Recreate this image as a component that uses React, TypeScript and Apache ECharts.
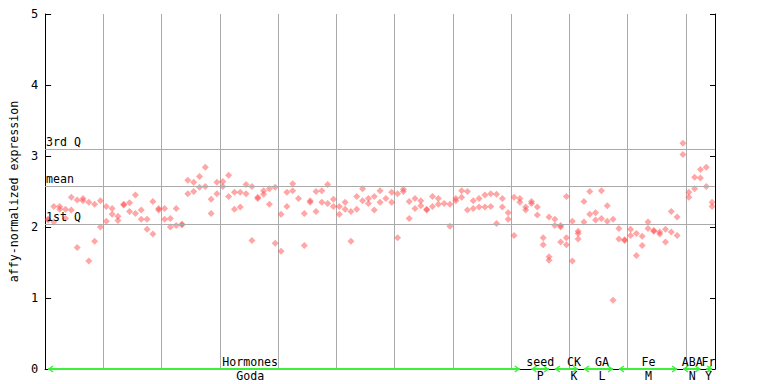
import React, { useEffect, useRef } from "react";
import * as echarts from "echarts";

// Two replicate values per sample column (115 columns)
const rep1 = [
  2.10, 2.07, 2.29, 2.25, 2.42, 2.38, 2.40, 2.35, 2.32, 2.37,
  2.29, 2.26, 2.15, 2.31, 2.34, 2.45, 2.24, 2.11, 2.36, 2.26,
  2.26, 2.12, 2.26, 2.03, 2.66, 2.63, 2.71, 2.84, 2.39, 2.63,
  2.64, 2.73, 2.49, 2.49, 2.60, 2.57, 2.42, 2.51, 2.54, 2.56,
  2.18, 2.49, 2.61, 2.40, 2.19, 2.37, 2.50, 2.51, 2.60, 2.39,
  2.29, 2.35, 2.22, 2.43, 2.54, 2.40, 2.43, 2.51, 2.40, 2.49,
  2.47, 2.53, 2.36, 2.40, 2.37, 2.24, 2.43, 2.40, 2.33, 2.32,
  2.40, 2.51, 2.50, 2.37, 2.40, 2.45, 2.47, 2.46, 2.40, 2.20,
  2.42, 2.40, 2.28, 2.36, 2.28, 1.85, 2.14, 2.11, 2.02, 2.43,
  2.08, 1.94, 2.36, 2.50, 2.20, 2.51, 2.30, 2.11, 1.98, 1.81,
  1.97, 1.91, 1.87, 2.07, 1.94, 1.93, 1.97, 2.22, 2.14, 3.18,
  2.49, 2.70, 2.81, 2.84, 2.35,
];
const rep2 = [
  2.11, 2.29, 2.25, 2.12, 2.24, 1.71, 2.37, 1.52, 1.80, 2.00,
  2.08, 2.18, 2.09, 2.32, 2.22, 2.19, 2.11, 1.97, 1.90, 2.24,
  2.11, 2.00, 2.02, 2.04, 2.47, 2.50, 2.56, 2.57, 2.19, 2.47,
  2.57, 2.43, 2.25, 2.28, 2.47, 1.81, 2.40, 2.46, 2.32, 1.77,
  1.66, 2.29, 2.51, null, 1.74, 2.35, 2.22, 2.35, 2.33, 2.29,
  2.18, 2.25, 1.80, 2.25, 2.37, 2.33, 2.24, 2.35, null, 2.35,
  1.85, 2.50, 2.12, 2.26, 2.30, 2.25, 2.29, 2.32, null, 2.01,
  2.37, 2.42, 2.24, 2.26, 2.28, 2.28, 2.29, 2.05, 2.28, 2.11,
  1.88, 2.35, 2.24, 2.33, 2.17, 1.75, 1.58, 2.02, 2.00, 1.85,
  1.52, 1.91, 2.07, 2.18, 2.10, 2.12, 2.08, 0.97, 1.83, 1.82,
  1.88, 1.60, 1.74, 1.98, 1.95, 1.90, 1.79, 1.93, 1.88, 3.02,
  2.42, 2.54, 2.69, 2.57, 2.29,
];
const extraCols = [86, 88, 89, 91];
const extraValues = [1.53, 1.79, 1.75, 1.83];

const quartileNames = ["1st Q", "mean", "3rd Q"];
const quartileValues = [2.04, 2.585, 3.105];

const groupNames = ["Hormones", "seed", "CK", "GA", "Fe", "ABA", "Fr"];
const groupSubs = ["Goda", "P", "K", "L", "M", "N", "Y"];
const groupStart = [0, 83, 87, 92, 98, 109, 113];
const groupEnd = [81, 86, 91, 97, 108, 112, 114];
const groupLabelAt = [35.2, 85.0, 90.8, 95.6, 103.6, 111.1, 113.9];

const yTicks = [0, 1, 2, 3, 4, 5];

const FONT = "DejaVu Sans Mono";

export default function App() {
  const ref = useRef<HTMLDivElement>(null);
  useEffect(() => {
    if (!ref.current) return;
    const chart = echarts.init(ref.current, undefined, { renderer: "svg" });

    const points: number[][] = [];
    rep1.forEach((v, i) => {
      if (v != null) points.push([i + 0.5, v]);
    });
    rep2.forEach((v, i) => {
      if (v != null) points.push([i + 0.5, v as number]);
    });
    extraCols.forEach((c, k) => points.push([c + 0.5, extraValues[k]]));

    const groupData = groupNames.map((n, i) => [groupStart[i] + 0.5, groupEnd[i] + 0.5, groupLabelAt[i], i]);

    const green = "#3cf03c";

    chart.setOption({
      animation: false,
      grid: { left: 37, right: 53, top: 14, bottom: 15, containLabel: false },
      xAxis: {
        type: "value",
        min: 0,
        max: 115,
        interval: 10,
        axisLine: { show: true, onZero: false, lineStyle: { color: "#000", width: 1 } },
        axisTick: { show: false },
        axisLabel: { show: false },
        splitLine: { show: true, lineStyle: { color: "#aaaaaa", width: 1 } },
      },
      yAxis: [
        {
          type: "value",
          min: yTicks[0],
          max: yTicks[yTicks.length - 1],
          interval: 1,
          name: "affy-normalized expression",
          nameLocation: "middle",
          nameGap: 22,
          nameTextStyle: { fontFamily: FONT, fontSize: 11.6, color: "#000" },
          axisLine: { show: true, lineStyle: { color: "#000", width: 1 } },
          axisTick: { show: true, inside: true, length: 6, lineStyle: { color: "#000" } },
          axisLabel: { fontFamily: FONT, fontSize: 12, color: "#000", margin: 7 },
          splitLine: { show: false },
        },
        {
          type: "value",
          position: "right",
          min: yTicks[0],
          max: yTicks[yTicks.length - 1],
          interval: 1,
          axisLine: { show: true, lineStyle: { color: "#000", width: 1 } },
          axisTick: { show: true, inside: true, length: 5, lineStyle: { color: "#000" } },
          axisLabel: { show: false },
          splitLine: { show: false },
        },
      ],
      series: [
        {
          type: "scatter",
          data: points,
          symbol: "diamond",
          symbolSize: 7,
          itemStyle: { color: "rgba(255,70,70,0.6)" },
          z: 3,
          markLine: {
            silent: true,
            symbol: "none",
            animation: false,
            lineStyle: { color: "#aaaaaa", type: "solid", width: 1 },
            label: {
              show: true,
              position: "insideStartTop",
              formatter: "{b}",
              color: "#000",
              fontFamily: FONT,
              fontSize: 11.6,
              distance: 1,
            },
            emphasis: { disabled: true },
            data: quartileNames.map((n, i) => ({ name: n, yAxis: quartileValues[i] })),
          },
        },
        {
          type: "custom",
          clip: false,
          silent: true,
          z: 5,
          data: groupData,
          encode: { x: [0, 1, 2], y: -1 },
          renderItem: (params: any, api: any) => {
            const s = api.value(0);
            const e = api.value(1);
            const l = api.value(2);
            const idx = api.value(3);
            const p0 = api.coord([s, 0]);
            const p1 = api.coord([e, 0]);
            const pl = api.coord([l, 0]);
            const y = p0[1];
            const st = { stroke: green, lineWidth: 2, fill: "none" };
            return {
              type: "group",
              children: [
                { type: "line", shape: { x1: p0[0], y1: y, x2: p1[0], y2: y }, style: st },
                {
                  type: "polyline",
                  shape: { points: [[p0[0] + 5, y - 3], [p0[0] + 1, y], [p0[0] + 5, y + 3]] },
                  style: { stroke: green, lineWidth: 1.5, fill: "none" },
                },
                {
                  type: "polyline",
                  shape: { points: [[p1[0] - 5, y - 3], [p1[0] - 1, y], [p1[0] - 5, y + 3]] },
                  style: { stroke: green, lineWidth: 1.5, fill: "none" },
                },
                {
                  type: "text",
                  style: {
                    text: groupNames[idx],
                    x: pl[0],
                    y: y - 7,
                    align: "center",
                    verticalAlign: "middle",
                    font: `11.6px "${FONT}"`,
                    fill: "#000",
                  },
                },
                {
                  type: "text",
                  style: {
                    text: groupSubs[idx],
                    x: pl[0],
                    y: y + 7,
                    align: "center",
                    verticalAlign: "middle",
                    font: `11.6px "${FONT}"`,
                    fill: "#000",
                  },
                },
              ],
            };
          },
        },
      ],
    });
    return () => chart.dispose();
  }, []);
  return <div ref={ref} style={{ width: 768, height: 384, position: "absolute", left: 0, top: 0 }} />;
}
